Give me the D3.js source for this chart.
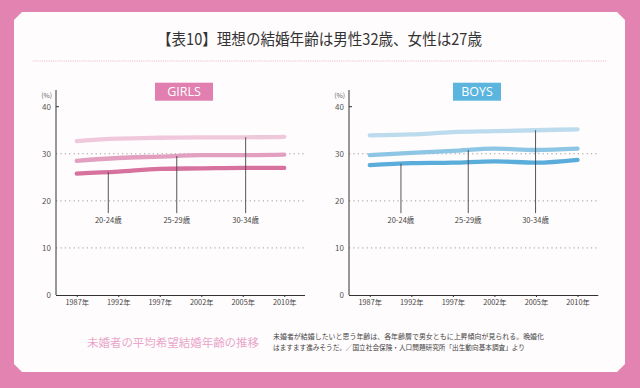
<!DOCTYPE html>
<html><head><meta charset="utf-8">
<script src="https://cdn.jsdelivr.net/npm/d3@7"></script>
<style>html,body{margin:0;padding:0;background:#e283b1;}svg{display:block;}</style>
</head><body>
<svg id="c" width="640" height="388"></svg>
<script>
const years = ["1987年","1992年","1997年","2002年","2005年","2010年"];
const yTicks = [0,10,20,30,40];
const ageGroups = ["20-24歳","25-29歳","30-34歳"];
const girls2024 = [25.8,26.2,26.8,26.9,27.0,27.0];
const girls2529 = [28.5,29.1,29.4,29.7,29.7,29.8];
const girls3034 = [32.7,33.2,33.4,33.5,33.5,33.6];
const boys2024 = [27.6,28.0,28.1,28.4,28.1,28.7];
const boys2529 = [29.7,30.2,30.6,31.1,30.8,31.1];
const boys3034 = [33.9,34.1,34.6,34.8,35.0,35.2];
// marker positions along the year axis (fractional category index)
const girlsMarkerAt = [0.76,2.41,4.07];
const boysMarkerAt = [0.75,2.37,3.99];
const markerBottom = 17.4;
const titleText = "【表10】理想の結婚年齢は男性32歳、女性は27歳";
const footerTitle = "未婚者の平均希望結婚年齢の推移";
const footerNote = ["未婚者が結婚したいと思う年齢は、各年齢層で男女ともに上昇傾向が見られる。晩婚化",
                    "はますます進みそうだ。／国立社会保険・人口問題研究所「出生動向基本調査」より"];

const svg = d3.select("#c");
const FONT = "'Noto Sans CJK JP','Noto Sans',sans-serif";

svg.append("rect").attr("width",640).attr("height",388).attr("fill","#e283b1");
const L=14,R=625,T=12,B=372,ch=8;
svg.append("polygon")
  .attr("points",[[L+ch,T],[R-ch,T],[R,T+ch],[R,B-ch],[R-ch,B],[L+ch,B],[L,B-ch],[L,T+ch]].map(p=>p.join(",")).join(" "))
  .attr("fill","#fffcfd");

svg.append("text").attr("x",157).attr("y",45).attr("textLength",325).attr("lengthAdjust","spacingAndGlyphs")
  .attr("font-family",FONT).attr("font-size",15.5).attr("fill","#333").text(titleText);
svg.append("line").attr("x1",33).attr("x2",607).attr("y1",61).attr("y2",61)
  .attr("stroke","#f4d3e2").attr("stroke-width",1.6).attr("stroke-dasharray","1.2,1");

function panel(opts){
  const g = svg.append("g");
  const x = d3.scalePoint().domain(years).range([opts.x0,opts.x1]).padding(0.5);
  const y = d3.scaleLinear().domain([0,40]).range([295,106.7]);
  const step = x.step();
  const xi = i => x(years[0]) + i*step;
  // gridlines
  g.selectAll(".grid").data(yTicks.filter(d=>d>0&&d<40)).join("line")
    .attr("x1",opts.x0).attr("x2",opts.x1).attr("y1",d=>y(d)).attr("y2",d=>y(d))
    .attr("stroke","#9a9a9a").attr("stroke-width",1).attr("stroke-dasharray","1.2,3.2");
  // y axis
  const ya = g.append("g").attr("transform",`translate(${opts.x0},0)`)
    .call(d3.axisLeft(y).tickValues(yTicks).tickSize(0).tickPadding(5));
  ya.select(".domain").remove();
  ya.selectAll("text").attr("font-family",FONT).attr("font-size",8).attr("fill","#555");
  g.append("line").attr("x1",opts.x0).attr("x2",opts.x0).attr("y1",90).attr("y2",295).attr("stroke","#333");
  g.append("line").attr("x1",opts.x0).attr("x2",opts.x0+3).attr("y1",y(40)).attr("y2",y(40)).attr("stroke","#333");
  g.append("text").attr("x",opts.x0-4).attr("y",98).attr("text-anchor","end")
    .attr("font-family",FONT).attr("font-size",6.8).attr("fill","#666").text("(%)");
  // x axis
  const xa = g.append("g").attr("transform","translate(0,295)")
    .call(d3.axisBottom(x).tickSize(2).tickPadding(3));
  xa.select(".domain").attr("d",`M${opts.x0},0.5H${opts.x1}`).attr("stroke","#333");
  xa.selectAll(".tick line").attr("stroke","#333");
  xa.selectAll("text").attr("font-family",FONT).attr("font-size",7.3).attr("fill","#444");
  // lines
  const line = d3.line().x((d,i)=>x(years[i])).y(d=>y(d)).curve(d3.curveMonotoneX);
  opts.series.forEach((s,k)=>{
    g.append("path").datum(s).attr("d",line).attr("fill","none")
      .attr("stroke",opts.colors[k]).attr("stroke-width",4.3).attr("stroke-linecap","round");
  });
  // markers
  opts.markers.forEach((m,k)=>{
    const s = opts.series[k];
    const i0 = Math.floor(m), f = m - i0;
    const v = s[i0] + (s[Math.min(i0+1,s.length-1)] - s[i0]) * f;
    g.append("line").attr("x1",xi(m)).attr("x2",xi(m)).attr("y1",y(v)).attr("y2",y(markerBottom))
      .attr("stroke","#444").attr("stroke-width",0.9);
    g.append("text").attr("x",xi(m)).attr("y",y(markerBottom)+10).attr("text-anchor","middle")
      .attr("font-family",FONT).attr("font-size",7.5).attr("fill","#444").text(ageGroups[k]);
  });
  // header box
  g.append("rect").attr("x",opts.bx).attr("y",82.7).attr("width",opts.bw).attr("height",18).attr("fill",opts.boxColor);
  g.append("text").attr("x",opts.bx+opts.bw/2).attr("y",96.3).attr("text-anchor","middle")
    .attr("font-family","'Open Sans',sans-serif").attr("font-size",12.5).attr("fill","#fff").text(opts.label);
}

panel({x0:56,x1:305,series:[girls2024,girls2529,girls3034],colors:["#d7719d","#e29fc0","#f0c8db"],
  markers:girlsMarkerAt,bx:155,bw:58,boxColor:"#e07fb0",label:"GIRLS"});
panel({x0:349,x1:598.3,series:[boys2024,boys2529,boys3034],colors:["#5aaddb","#8cc6e4","#bcdcee"],
  markers:boysMarkerAt,bx:453,bw:48,boxColor:"#5bb5df",label:"BOYS"});

svg.append("text").attr("x",87).attr("y",347).attr("textLength",172).attr("lengthAdjust","spacingAndGlyphs")
  .attr("font-family",FONT).attr("font-size",11.5).attr("fill","#e8a6ca").text(footerTitle);
footerNote.forEach((t,i)=>{
  svg.append("text").attr("x",273).attr("y",338.5+i*11)
    .attr("textLength",i===0?271:252).attr("lengthAdjust","spacingAndGlyphs")
    .attr("font-family",FONT).attr("font-size",7.4).attr("fill","#444").text(t);
});
</script>
</body></html>
